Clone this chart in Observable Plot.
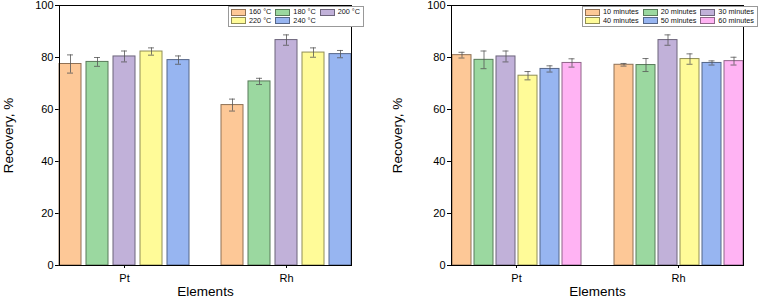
<!DOCTYPE html>
<html>
<head>
<meta charset="utf-8">
<script src="https://cdn.jsdelivr.net/npm/d3@7"></script>
<script src="https://cdn.jsdelivr.net/npm/@observablehq/plot@0.6"></script>
<style>
  html, body { margin: 0; padding: 0; background: #fff; }
  #wrap { position: relative; width: 760px; height: 297px; overflow: hidden; font-family: "Liberation Sans", Arial, sans-serif; }
  .panel { position: absolute; top: 0; width: 380px; height: 297px; }
  .legend { position: absolute; box-sizing: border-box; border: 1px solid #999; background: #fff;
            display: grid; grid-template-columns: repeat(3, auto); column-gap: 3px; row-gap: 0px;
            padding: 1px 2px; font-size: 7.3px; line-height: 8.5px; color: #111; }
  .legend .item { display: flex; align-items: center; white-space: nowrap; }
  .legend .sw { display: inline-block; width: 15px; height: 7px; margin-right: 3px; box-sizing: border-box; border: 0.8px solid; }
</style>
</head>
<body>
<div id="wrap">
  <div id="left" class="panel" style="left:0"></div>
  <div id="right" class="panel" style="left:380px"></div>
</div>
<script>
// ---- data ----
const elements = ["Pt", "Rh"];

const tempLabels = ["160 °C", "180 °C", "200 °C", "220 °C", "240 °C"];
const tempPt    = [77.5, 78.3, 80.4, 82.3, 79.0];
const tempPtErr = [3.5, 1.7, 2.1, 1.4, 1.6];
const tempRh    = [61.7, 70.8, 86.7, 81.9, 81.3];
const tempRhErr = [2.3, 1.2, 2.0, 1.8, 1.4];

const timeLabels = ["10 minutes", "20 minutes", "30 minutes", "40 minutes", "50 minutes", "60 minutes"];
const timePt    = [80.9, 79.1, 80.4, 73.0, 75.6, 77.9];
const timePtErr = [1.1, 3.4, 2.1, 1.6, 1.2, 1.6];
const timeRh    = [77.2, 77.1, 86.7, 79.4, 77.9, 78.6];
const timeRhErr = [0.5, 2.5, 2.0, 2.0, 0.8, 1.5];

const yTicks = [0, 20, 40, 60, 80, 100];
const palette = ["#FDC897", "#9BD8A0", "#C1B1D9", "#FFFB98", "#97B5F1", "#FFB3F3"];

function buildRows(labels, ptVals, ptErr, rhVals, rhErr) {
  const rows = [];
  const vals = [ptVals, rhVals], errs = [ptErr, rhErr];
  elements.forEach((el, i) => {
    labels.forEach((s, j) => rows.push({element: el, series: s, value: vals[i][j], err: errs[i][j]}));
  });
  return rows;
}

function panel(container, labels, rows, cfg) {
  const colors = palette.slice(0, labels.length);
  const colorOf = new Map(labels.map((l, i) => [l, colors[i]]));
  const strokeOf = s => d3.color(colorOf.get(s)).darker(1.6).formatHex();
  const chart = Plot.plot({
    width: 380,
    height: 297,
    marginLeft: cfg.marginLeft,
    marginRight: cfg.marginRight,
    marginTop: 5,
    marginBottom: 32,
    style: {fontFamily: "'Liberation Sans', Arial, sans-serif", fontSize: "11px", color: "#000", background: "#fff"},
    fx: {domain: elements, paddingInner: 0.2, paddingOuter: 0.1, label: "Elements", labelAnchor: "center",
         labelOffset: 30, tickSize: 3, tickPadding: 6},
    x: {domain: labels, paddingInner: cfg.barPad, paddingOuter: 0, axis: null},
    y: {domain: [0, 100], ticks: yTicks, tickSize: 4, tickPadding: 2, label: "Recovery, %",
        labelAnchor: "center", labelArrow: "none", labelOffset: cfg.labelOffset},
    color: {domain: labels, range: colors},
    marks: [
      Plot.barY(rows, {fx: "element", x: "series", y: "value", fill: "series",
                       stroke: d => strokeOf(d.series), strokeWidth: 1}),
      Plot.ruleX(rows, {fx: "element", x: "series", y1: d => d.value - d.err, y2: d => d.value + d.err,
                        stroke: "#555", strokeWidth: 0.8}),
      Plot.tickY(rows, {fx: "element", x: "series", y: d => d.value - d.err, stroke: "#555", strokeWidth: 0.8,
                        insetLeft: cfg.capInset, insetRight: cfg.capInset}),
      Plot.tickY(rows, {fx: "element", x: "series", y: d => d.value + d.err, stroke: "#555", strokeWidth: 0.8,
                        insetLeft: cfg.capInset, insetRight: cfg.capInset}),
      Plot.frame({facet: "super", stroke: "#000", strokeWidth: 1})
    ]
  });
  chart.querySelectorAll("text").forEach(t => {
    const txt = t.textContent;
    if (txt === "Recovery, %" || txt === "Elements") t.style.fontSize = "13.5px";
  });
  container.appendChild(chart);

  const leg = document.createElement("div");
  leg.className = "legend";
  leg.style.left = cfg.legend.left + "px";
  leg.style.top = cfg.legend.top + "px";
  leg.style.width = cfg.legend.width + "px";
  labels.forEach(l => {
    const it = document.createElement("div");
    it.className = "item";
    const sw = document.createElement("span");
    sw.className = "sw";
    sw.style.background = colorOf.get(l);
    sw.style.borderColor = strokeOf(l);
    it.appendChild(sw);
    it.appendChild(document.createTextNode(l));
    leg.appendChild(it);
  });
  container.appendChild(leg);
}

panel(document.getElementById("left"), tempLabels,
      buildRows(tempLabels, tempPt, tempPtErr, tempRh, tempRhErr),
      {marginLeft: 43, marginRight: 13, barPad: 0.19, capInset: 8, labelOffset: 56,
       legend: {left: 228, top: 6, width: 136}});

panel(document.getElementById("right"), timeLabels,
      buildRows(timeLabels, timePt, timePtErr, timeRh, timeRhErr),
      {marginLeft: 55, marginRight: 1, barPad: 0.14, capInset: 6.5, labelOffset: 59,
       legend: {left: 202, top: 6, width: 176}});
</script>
</body>
</html>
